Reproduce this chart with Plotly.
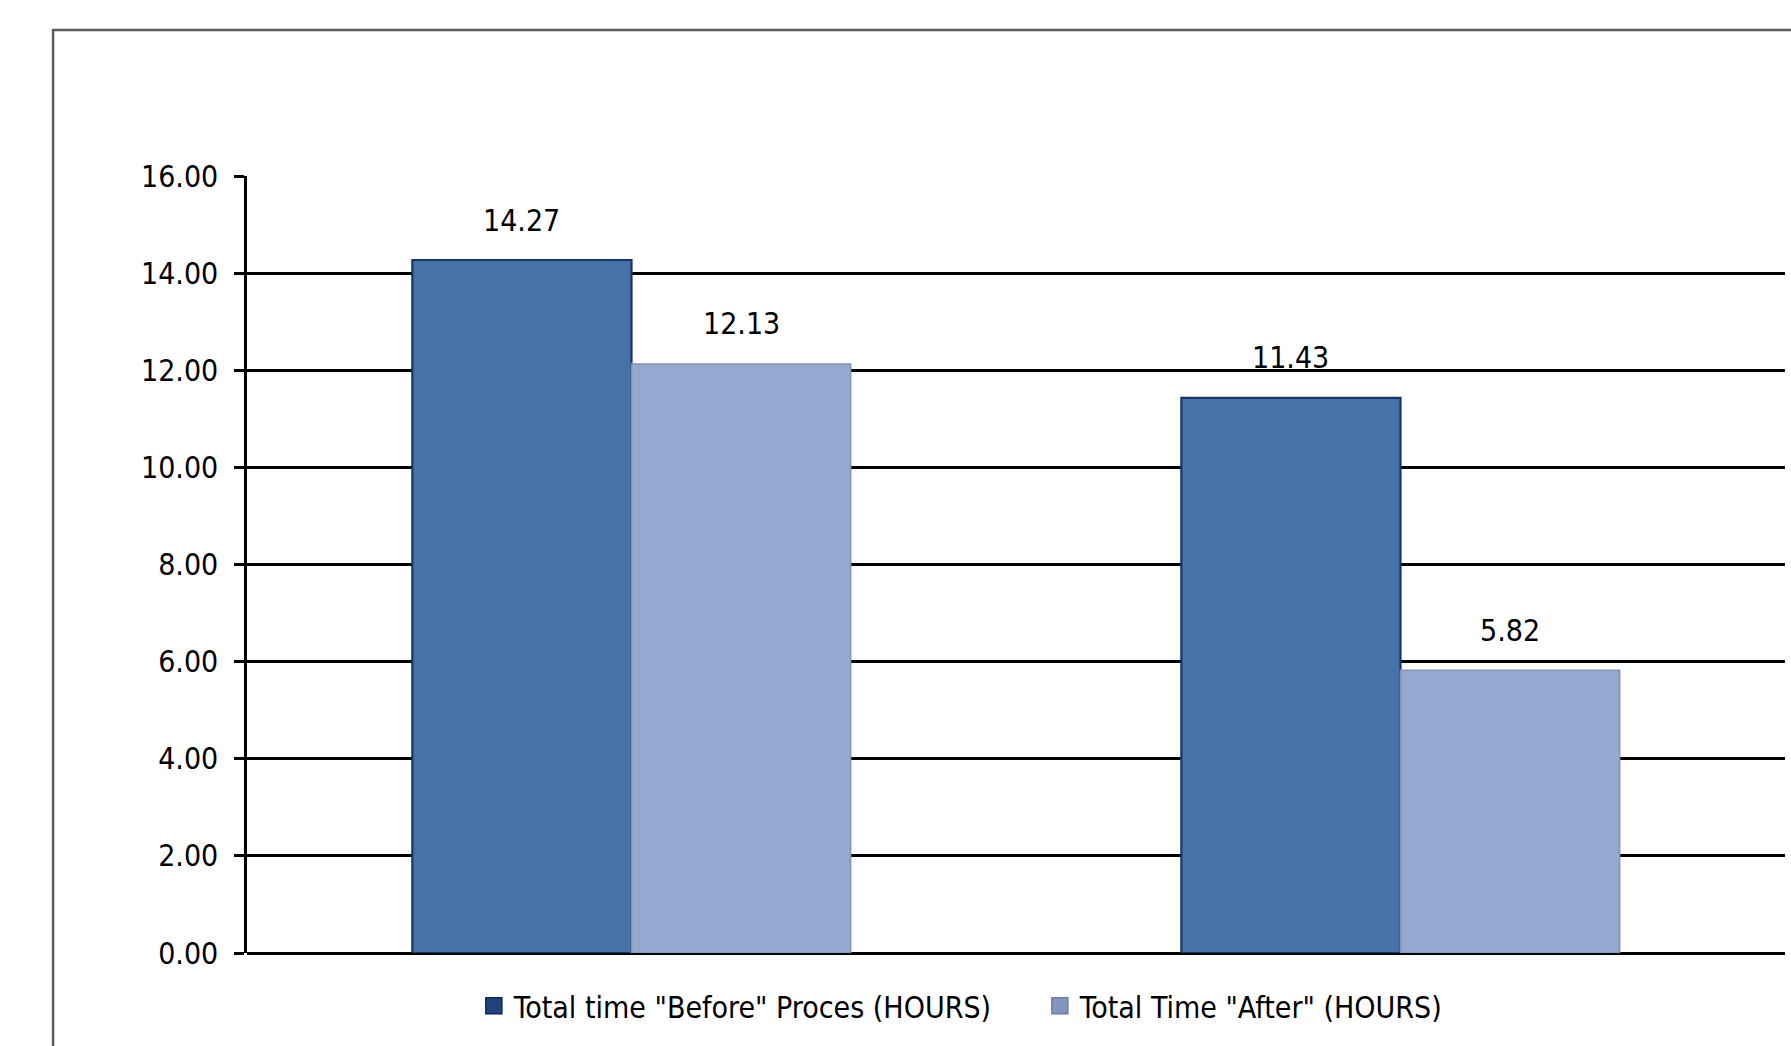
import plotly.graph_objects as go

# Process stages (not labelled on the axis)
stages = ["Stage 1", "Stage 2"]
before_hours = [14.27, 11.43]
after_hours = [12.13, 5.82]
series_names = ['Total time "Before" Proces (HOURS)', 'Total Time "After" (HOURS)']
y_ticks = [0, 2, 4, 6, 8, 10, 12, 14, 16]

FONT = "Liberation Sans Narrow, DejaVu Sans Condensed, Arial Narrow, sans-serif"
FS = 30
BAR_W = 0.285  # width of a single bar, in category units

bar_fill = ["#4672A8", "#95A9CF"]
bar_edge = ["#17356A", "#8194B8"]
key_fill = ["#22447C", "#8295BC"]
key_edge = ["#0D2655", "#6A7FA8"]

fig = go.Figure()
for k, (values, offs) in enumerate(((before_hours, -BAR_W), (after_hours, 0))):
    fig.add_trace(go.Bar(
        x=stages, y=values, name=series_names[k],
        width=BAR_W, offset=offs, legendgroup=f"s{k}", showlegend=False,
        marker=dict(color=bar_fill[k], line=dict(color=bar_edge[k], width=2.2 if k == 0 else 1.5)),
    ))
    # larger square key for the legend
    fig.add_trace(go.Scatter(
        x=[None], y=[None], mode="markers", name=series_names[k],
        legendgroup=f"s{k}", showlegend=True,
        marker=dict(symbol="square", size=16, color=key_fill[k],
                    line=dict(color=key_edge[k], width=1.5)),
    ))

# value labels above each bar
annotations = []
for offs, values in ((-BAR_W, before_hours), (0, after_hours)):
    for i, v in enumerate(values):
        annotations.append(dict(
            x=i + offs + BAR_W / 2, y=v, xref="x", yref="y",
            text=f"{v:.2f}", showarrow=False, yanchor="middle", yshift=40,
            font=dict(family=FONT, size=FS, color="black"),
        ))

fig.update_layout(
    width=1791, height=1046,
    margin=dict(l=247, r=6, t=176, b=93),
    paper_bgcolor="white", plot_bgcolor="white",
    barmode="group",
    font=dict(family=FONT, size=FS, color="black"),
    showlegend=True,
    legend=dict(
        orientation="h", x=0.1475, xanchor="left", y=-0.068, yanchor="middle",
        font=dict(family=FONT, size=FS, color="black"),
        bgcolor="rgba(0,0,0,0)", entrywidth=521, entrywidthmode="pixels",
        itemsizing="trace",
    ),
    annotations=annotations,
    shapes=[dict(
        type="rect", xref="paper", yref="paper",
        x0=-0.1261, x1=1.5, y0=-1.0, y1=1.188,
        line=dict(color="#5A5A5A", width=2.5), fillcolor="rgba(0,0,0,0)",
        layer="below",
    )],
)

fig.update_xaxes(
    type="category", range=[-0.5, 1.5],
    showticklabels=False, ticks="", showgrid=False,
    showline=False, zeroline=False,
)
fig.update_yaxes(
    range=[0, 16], tickvals=y_ticks, tickformat=".2f",
    showgrid=True, gridcolor="black", gridwidth=2.5,
    showline=True, linecolor="black", linewidth=2.5,
    ticks="outside", ticklen=10, tickwidth=2.5, tickcolor="black",
    ticklabelstandoff=10,
    zeroline=True, zerolinecolor="black", zerolinewidth=2.5,
    tickfont=dict(family=FONT, size=FS, color="black"),
)

fig.write_html("out.html")
